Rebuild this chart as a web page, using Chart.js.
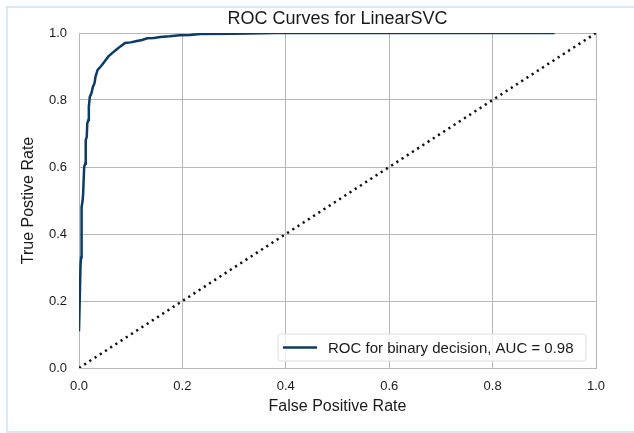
<!DOCTYPE html>
<html>
<head>
<meta charset="utf-8">
<script src="https://cdn.jsdelivr.net/npm/chart.js@4/dist/chart.umd.min.js"></script>
<style>
  body { margin: 0; background: #fff; }
  #wrap { position: relative; width: 634px; height: 433px; overflow: hidden; }
  #frame { position: absolute; left: 6px; top: 6px; width: 660px; height: 427px;
           box-sizing: border-box; border: 2px solid #d3eafb; pointer-events: none; }
</style>
</head>
<body>
<div id="wrap">
  <canvas id="myChart" width="634" height="433"></canvas>
  <div id="frame"></div>
</div>
<script>
// ROC curve
var fpr = [0.000, 0.003, 0.004, 0.005, 0.007, 0.008, 0.010, 0.012, 0.013, 0.015, 0.016, 0.018,
           0.019, 0.021, 0.024, 0.027, 0.030, 0.032, 0.036, 0.042, 0.047, 0.052, 0.057, 0.064,
           0.072, 0.080, 0.089, 0.100, 0.112, 0.122, 0.132, 0.145, 0.157, 0.175, 0.195, 0.215,
           0.234, 0.300, 0.380, 0.920];
var tpr = [0.11, 0.31, 0.33, 0.48, 0.50, 0.52, 0.60, 0.61, 0.68, 0.69, 0.73, 0.74,
           0.78, 0.81, 0.82, 0.84, 0.85, 0.87, 0.89, 0.90, 0.91, 0.92, 0.93, 0.94,
           0.95, 0.96, 0.97, 0.972, 0.976, 0.979, 0.984, 0.985, 0.988, 0.990, 0.993, 0.994,
           0.997, 0.998, 1.0, 1.0];
var diagX = [0, 1];
var diagY = [0, 1];
var tickValues = [0, 0.2, 0.4, 0.6, 0.8, 1.0];
var chartTitle = 'ROC Curves for LinearSVC';
var legendLabel = 'ROC for binary decision, AUC = 0.98';

var FONT = '"Liberation Sans", Arial, sans-serif';
var curveColor = '#0b3b66';
var gridColor = '#b8b8b8';

function toPoints(xs, ys) {
    return xs.map(function (x, i) { return { x: x, y: ys[i] }; });
}

// title and legend drawn by hand so they sit where matplotlib put them
var extras = {
    id: 'extras',
    afterDraw: function (chart) {
        var ctx = chart.ctx;
        var a = chart.chartArea;
        ctx.save();
        ctx.fillStyle = '#1a1a1a';
        ctx.font = '18px ' + FONT;
        ctx.textAlign = 'center';
        ctx.textBaseline = 'middle';
        ctx.fillText(chartTitle, (a.left + a.right) / 2, 19);

        // legend box
        var x0 = 278, y0 = 334, w = 308, h = 27, r = 3;
        ctx.beginPath();
        ctx.moveTo(x0 + r, y0);
        ctx.arcTo(x0 + w, y0, x0 + w, y0 + h, r);
        ctx.arcTo(x0 + w, y0 + h, x0, y0 + h, r);
        ctx.arcTo(x0, y0 + h, x0, y0, r);
        ctx.arcTo(x0, y0, x0 + w, y0, r);
        ctx.closePath();
        ctx.fillStyle = 'rgba(255,255,255,0.8)';
        ctx.fill();
        ctx.strokeStyle = '#dedede';
        ctx.lineWidth = 1;
        ctx.stroke();

        ctx.beginPath();
        ctx.moveTo(283, y0 + h / 2);
        ctx.lineTo(317, y0 + h / 2);
        ctx.strokeStyle = curveColor;
        ctx.lineWidth = 2.5;
        ctx.stroke();

        ctx.fillStyle = '#1a1a1a';
        ctx.font = '15px ' + FONT;
        ctx.textAlign = 'left';
        ctx.fillText(legendLabel, 328, y0 + h / 2 + 1);
        ctx.restore();
    }
};

var ctx = document.getElementById('myChart').getContext('2d');
var chart = new Chart(ctx, {
    type: 'scatter',
    data: {
        datasets: [{
            label: legendLabel,
            data: toPoints(fpr, tpr),
            showLine: true,
            borderColor: curveColor,
            borderWidth: 2.5,
            pointRadius: 0,
            tension: 0
        }, {
            label: 'diagonal',
            data: toPoints(diagX, diagY),
            showLine: true,
            borderColor: '#111',
            borderWidth: 2.5,
            borderDash: [2.2, 4],
            pointRadius: 0
        }]
    },
    options: {
        responsive: false,
        animation: false,
        layout: { padding: { left: 0, top: 33, right: 38, bottom: 0 } },
        plugins: {
            legend: { display: false },
            title: { display: false },
            tooltip: { enabled: false }
        },
        scales: {
            x: {
                type: 'linear',
                min: 0,
                max: 1,
                afterFit: function (s) { s.height = 65; },
                afterBuildTicks: function (s) {
                    s.ticks = tickValues.map(function (v) { return { value: v }; });
                },
                grid: { color: gridColor, lineWidth: 1, drawTicks: false },
                border: { color: gridColor },
                ticks: {
                    padding: 11,
                    color: '#1a1a1a',
                    font: { family: FONT, size: 13 },
                    callback: function (v) { return v.toFixed(1); }
                },
                title: {
                    display: true,
                    text: 'False Positive Rate',
                    color: '#1a1a1a',
                    font: { family: FONT, size: 16 },
                    padding: { top: 0, bottom: 17 }
                }
            },
            y: {
                type: 'linear',
                min: 0,
                max: 1,
                afterFit: function (s) { s.width = 79; },
                afterBuildTicks: function (s) {
                    s.ticks = tickValues.map(function (v) { return { value: v }; });
                },
                grid: { color: gridColor, lineWidth: 1, drawTicks: false },
                border: { color: gridColor },
                ticks: {
                    padding: 12,
                    color: '#1a1a1a',
                    font: { family: FONT, size: 13 },
                    callback: function (v) { return v.toFixed(1); }
                },
                title: {
                    display: true,
                    text: 'True Postive Rate',
                    color: '#1a1a1a',
                    font: { family: FONT, size: 16 },
                    padding: { top: 19, bottom: 0 }
                }
            }
        }
    },
    plugins: [extras]
});
</script>
</body>
</html>
